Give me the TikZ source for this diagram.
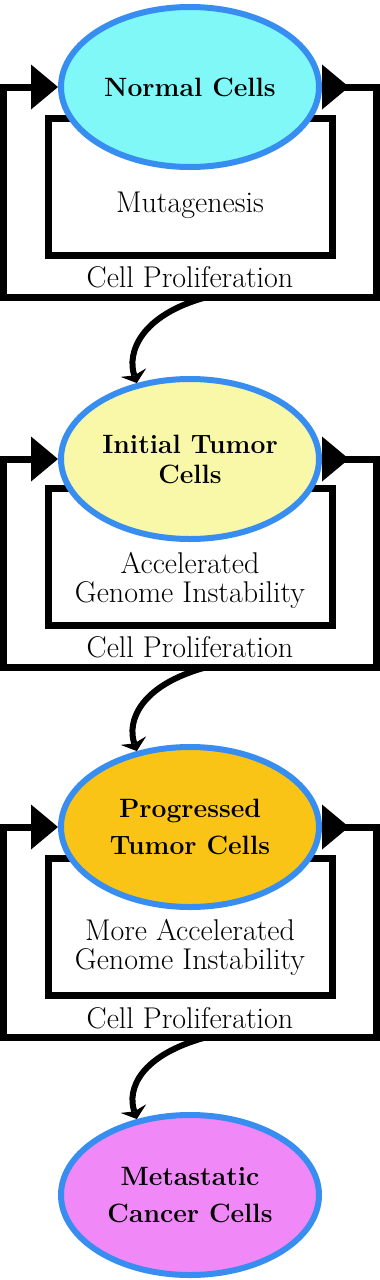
\documentclass[tikz,border=0pt]{standalone}
\usepackage{fontspec}
\usetikzlibrary{arrows.meta,shapes.geometric}
\definecolor{cellblue}{RGB}{56,142,240}
\definecolor{cellcyan}{RGB}{128,248,248}
\definecolor{cellyellow}{RGB}{248,248,168}
\definecolor{cellorange}{RGB}{250,196,22}
\definecolor{cellpink}{RGB}{240,136,248}
\tikzset{
  cell/.style={ellipse, draw=cellblue, line width=6pt, minimum width=258pt, minimum height=160pt,
    inner sep=0pt, align=center, font=\fontsize{26.5}{34}\selectfont\bfseries},
  innerbox/.style={draw, line width=7pt, minimum width=284pt, minimum height=137pt, inner sep=0pt},
  lbl/.style={font=\fontsize{30}{29}\selectfont, align=center, inner sep=0pt},
  loopline/.style={line width=7pt, line join=miter},
  bigtip/.style={-{Triangle[length=27pt,width=45pt,line width=0pt]}},
  conn/.style={line width=6pt, -{Stealth[length=11pt,width=27pt,inset=3pt,line width=0pt]}},
}
\begin{document}
\begin{tikzpicture}[x=1pt,y=-1pt]
\useasboundingbox (0,0) rectangle (380,1280);
% ---------- section 1
\node[innerbox] (b1) at (190,186.5) {};
\node[cell, fill=cellcyan] (n1) at (190,87) {Normal Cells};
\node[lbl] (t1) at (190,205) {Mutagenesis};
\node[lbl] (p1) at (190,277) {Cell Proliferation};
\coordinate (ne1) at (376.5,87);
\coordinate (se1) at (376.5,297);
\coordinate (sw1) at (3.5,297);
\coordinate (nw1) at (3.5,87);
\coordinate (a1) at (349,87);
\coordinate (s1) at (207,297);
\draw[loopline,bigtip] (n1.east) -- (ne1) -- (se1) -- (sw1) -- (nw1) -- (n1.west);
\draw[loopline,bigtip] (n1.east) -- (a1);
% ---------- section 2
\node[innerbox] (b2) at (190,556.5) {};
\node[cell, fill=cellyellow, font=\fontsize{26.5}{30}\selectfont\bfseries] (n2) at (190,459) {Initial Tumor\\Cells};
\node[lbl] (t2) at (190,580) {Accelerated\\Genome Instability};
\node[lbl] (p2) at (190,647) {Cell Proliferation};
\coordinate (ne2) at (376.5,459);
\coordinate (se2) at (376.5,667);
\coordinate (sw2) at (3.5,667);
\coordinate (nw2) at (3.5,459);
\coordinate (a2) at (349,459);
\coordinate (s2) at (207,667);
\draw[loopline,bigtip] (n2.east) -- (ne2) -- (se2) -- (sw2) -- (nw2) -- (n2.west);
\draw[loopline,bigtip] (n2.east) -- (a2);
\draw[conn] (s1) .. controls +(-67,18) and +(-10,-30) .. (n2.125);
% ---------- section 3
\node[innerbox] (b3) at (190,926.5) {};
\node[cell, fill=cellorange, font=\fontsize{26.5}{37}\selectfont\bfseries] (n3) at (190,827) {Progressed\\Tumor Cells};
\node[lbl] (t3) at (190,947) {More Accelerated\\Genome Instability};
\node[lbl] (p3) at (190,1018) {Cell Proliferation};
\coordinate (ne3) at (376.5,827);
\coordinate (se3) at (376.5,1037);
\coordinate (sw3) at (3.5,1037);
\coordinate (nw3) at (3.5,827);
\coordinate (a3) at (349,827);
\coordinate (s3) at (207,1037);
\draw[loopline,bigtip] (n3.east) -- (ne3) -- (se3) -- (sw3) -- (nw3) -- (n3.west);
\draw[loopline,bigtip] (n3.east) -- (a3);
\draw[conn] (s2) .. controls +(-67,18) and +(-10,-30) .. (n3.125);
% ---------- final
\node[cell, fill=cellpink, font=\fontsize{26.5}{37}\selectfont\bfseries] (n4) at (190,1195) {Metastatic\\Cancer Cells};
\draw[conn] (s3) .. controls +(-67,18) and +(-10,-30) .. (n4.125);
\end{tikzpicture}
\end{document}
